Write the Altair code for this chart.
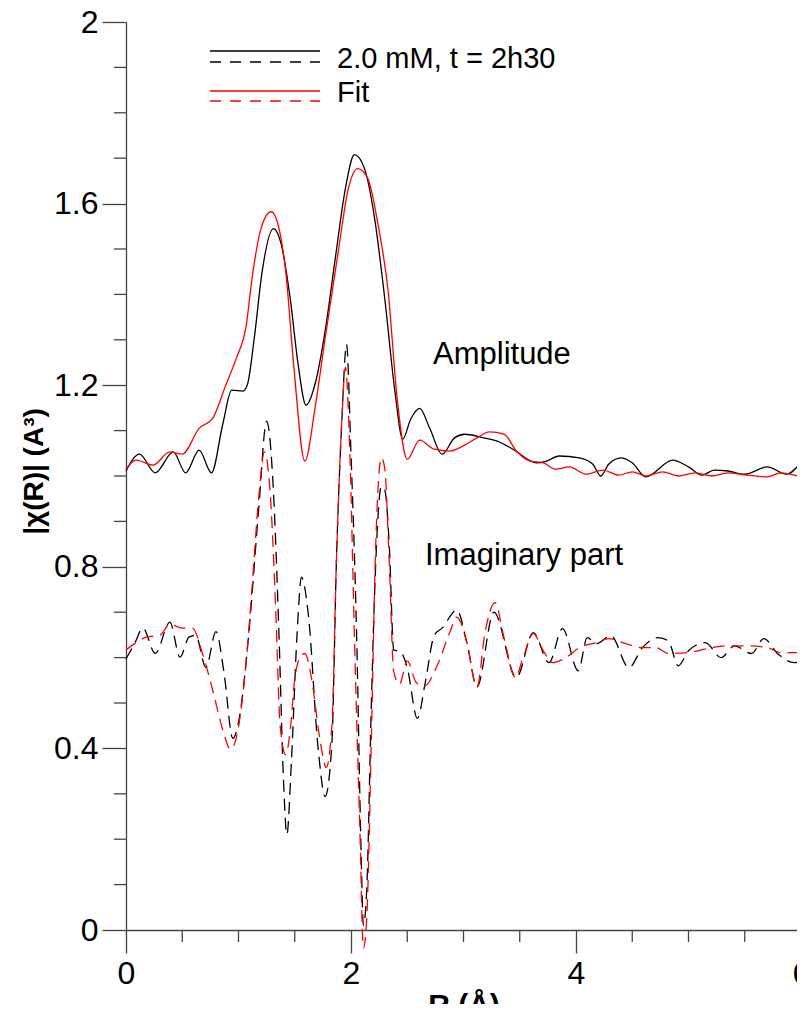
import altair as alt
import pandas as pd

# ---------------- data ----------------
# |chi(R)| amplitude, experiment (black solid)
R_amp = [0.00, 0.12, 0.26, 0.42, 0.53, 0.65, 0.76, 0.86, 0.94, 1.04, 1.08, 1.14, 1.21, 1.31, 1.38,
         1.46, 1.53, 1.60, 1.68, 1.77, 1.86, 1.95, 2.03, 2.12, 2.21, 2.30, 2.39, 2.46, 2.53, 2.61,
         2.70, 2.81, 2.92, 3.01, 3.18, 3.30, 3.44, 3.65, 3.74, 3.85, 4.03, 4.15, 4.22, 4.29, 4.40,
         4.50, 4.62, 4.86, 5.00, 5.12, 5.23, 5.35, 5.50, 5.70, 5.87, 6.00]
amp_exp = [1.011, 1.048, 1.007, 1.053, 1.007, 1.057, 1.007, 1.114, 1.189, 1.187, 1.202, 1.303, 1.45,
           1.545, 1.51, 1.39, 1.246, 1.156, 1.202, 1.319, 1.479, 1.633, 1.708, 1.677, 1.567, 1.391,
           1.187, 1.081, 1.125, 1.149, 1.105, 1.048, 1.084, 1.092, 1.084, 1.077, 1.059, 1.029, 1.033,
           1.044, 1.040, 1.026, 1.000, 1.026, 1.040, 1.029, 0.998, 1.035, 1.020, 1.002, 1.013, 1.011,
           1.004, 1.020, 1.004, 1.030]

# amplitude, fit (red solid)
R_amp_fit = [0.00, 0.09, 0.24, 0.39, 0.50, 0.65, 0.77, 0.89, 0.98, 1.07, 1.12, 1.20, 1.29, 1.36, 1.42,
             1.49, 1.59, 1.68, 1.77, 1.89, 1.97, 2.06, 2.15, 2.24, 2.33, 2.41, 2.50, 2.61, 2.74, 2.88,
             3.01, 3.12, 3.23, 3.36, 3.47, 3.59, 3.71, 3.82, 3.94, 4.09, 4.24, 4.38, 4.50, 4.62, 4.77,
             4.91, 5.06, 5.21, 5.35, 5.52, 5.70, 5.82, 6.00]
amp_fit = [1.015, 1.035, 1.024, 1.053, 1.048, 1.105, 1.127, 1.202, 1.259, 1.334, 1.435, 1.545, 1.582,
           1.545, 1.45, 1.246, 1.033, 1.149, 1.303, 1.50, 1.626, 1.677, 1.655, 1.554, 1.407, 1.171,
           1.037, 1.079, 1.059, 1.055, 1.068, 1.084, 1.097, 1.092, 1.055, 1.033, 1.029, 1.015, 1.020,
           1.004, 1.013, 1.002, 1.009, 1.000, 1.009, 1.000, 1.007, 1.000, 1.007, 1.002, 0.998, 1.007,
           0.998]

# imaginary part, experiment (black dashed)
R_im = [0.00, 0.08, 0.15, 0.26, 0.39, 0.48, 0.56, 0.62, 0.71, 0.80, 0.87, 0.95, 1.00, 1.09, 1.18,
        1.25, 1.31, 1.36, 1.40, 1.43, 1.47, 1.52, 1.56, 1.62, 1.71, 1.77, 1.83, 1.87, 1.92, 1.96,
        2.00, 2.05, 2.09, 2.11, 2.14, 2.18, 2.22, 2.27, 2.30, 2.34, 2.38, 2.44, 2.50, 2.59, 2.66,
        2.74, 2.81, 2.94, 3.03, 3.12, 3.27, 3.47, 3.62, 3.76, 3.88, 4.02, 4.10, 4.18, 4.31, 4.47,
        4.59, 4.73, 4.82, 4.91, 5.00, 5.15, 5.29, 5.41, 5.56, 5.67, 5.79, 5.94, 6.00]
im_exp = [0.597, 0.633, 0.665, 0.609, 0.678, 0.601, 0.645, 0.649, 0.578, 0.657, 0.569, 0.422, 0.457,
          0.649, 0.929, 1.121, 0.969, 0.649, 0.33, 0.21, 0.37, 0.649, 0.777, 0.697, 0.394, 0.294,
          0.41, 0.809, 1.129, 1.29, 1.049, 0.649, 0.17, 0.01, 0.09, 0.49, 0.809, 0.977, 0.969, 0.849,
          0.617, 0.613, 0.578, 0.466, 0.545, 0.649, 0.665, 0.705, 0.633, 0.535, 0.70, 0.556, 0.655,
          0.589, 0.664, 0.571, 0.644, 0.631, 0.648, 0.578, 0.622, 0.644, 0.637, 0.582, 0.615, 0.633,
          0.600, 0.626, 0.609, 0.642, 0.609, 0.589, 0.590]

# imaginary part, fit (red dashed)
R_im_fit = [0.00, 0.09, 0.18, 0.30, 0.39, 0.50, 0.59, 0.68, 0.77, 0.86, 0.93, 0.99, 1.06, 1.12, 1.18,
            1.23, 1.28, 1.33, 1.37, 1.42, 1.46, 1.50, 1.55, 1.59, 1.65, 1.72, 1.78, 1.83, 1.87, 1.92,
            1.95, 1.99, 2.03, 2.08, 2.11, 2.14, 2.18, 2.22, 2.27, 2.30, 2.34, 2.38, 2.43, 2.50, 2.58,
            2.65, 2.77, 2.88, 2.94, 3.03, 3.12, 3.19, 3.28, 3.36, 3.46, 3.53, 3.62, 3.71, 3.79, 3.91,
            4.03, 4.18, 4.29, 4.44, 4.59, 4.71, 4.82, 5.00, 5.17, 5.35, 5.53, 5.70, 5.82, 6.00]
im_fit = [0.617, 0.633, 0.645, 0.649, 0.673, 0.665, 0.665, 0.609, 0.529, 0.441, 0.398, 0.434, 0.569,
          0.753, 0.953, 1.053, 0.969, 0.713, 0.45, 0.386, 0.441, 0.553, 0.601, 0.609, 0.553, 0.426,
          0.358, 0.45, 0.809, 1.13, 1.24, 1.05, 0.65, 0.21, -0.04, 0.026, 0.41, 0.849, 1.04, 1.017,
          0.81, 0.569, 0.541, 0.593, 0.545, 0.537, 0.585, 0.657, 0.689, 0.633, 0.535, 0.653, 0.721,
          0.644, 0.556, 0.600, 0.653, 0.615, 0.589, 0.600, 0.622, 0.633, 0.642, 0.631, 0.622, 0.622,
          0.609, 0.611, 0.620, 0.626, 0.626, 0.622, 0.611, 0.611]

# axis ticks and texts
x_major = [0, 2, 4, 6]
x_minor = [0.5, 1.0, 1.5, 2.5, 3.0, 3.5, 4.5, 5.0, 5.5]
y_major = [0, 0.4, 0.8, 1.2, 1.6, 2.0]
y_minor = [0.1, 0.2, 0.3, 0.5, 0.6, 0.7, 0.9, 1.0, 1.1, 1.3, 1.4, 1.5, 1.7, 1.8, 1.9]
legend_labels = ["2.0 mM, t = 2h30", "Fit"]
annotations = ["Amplitude", "Imaginary part"]
x_title = "R (Å)"
y_title = "|χ(R)| (A³)"

# ---------------- chart ----------------
FONT = "Liberation Sans"
W, H = 675, 908
AX = "#444444"

xscale = alt.Scale(domain=[0, 6], nice=False, zero=False)
yscale = alt.Scale(domain=[0, 2], nice=False, zero=False)

xaxis = alt.Axis(values=x_major, tickSize=23, tickColor=AX, tickWidth=1.3,
                 domainColor=AX, domainWidth=1.3, grid=False,
                 labelFont=FONT, labelFontSize=32, labelColor="black", labelPadding=5,
                 labelFlush=False, labelOverlap=False, format="d",
                 title=x_title, titleFont=FONT, titleFontSize=30, titleFontWeight="bold",
                 titleColor="black", titleY=84, titleBaseline="alphabetic")
yaxis = alt.Axis(values=y_major, tickSize=24, tickColor=AX, tickWidth=1.3,
                 domainColor=AX, domainWidth=1.3, grid=False,
                 labelFont=FONT, labelFontSize=32, labelColor="black", labelPadding=4,
                 labelFlush=False, labelOverlap=False, format=".1~f",
                 title=y_title, titleFont=FONT, titleFontSize=28, titleFontWeight="bold",
                 titleColor="black", titleAngle=270, titleX=-92, titleY=449,
                 titleAlign="center", titleBaseline="middle")


def curve(R, v, color, dash=None):
    df = pd.DataFrame({"R": R, "v": v})
    kw = dict(color=color, strokeWidth=1.3, interpolate="monotone")
    if dash:
        kw["strokeDash"] = dash
    return alt.Chart(df).mark_line(**kw).encode(
        x=alt.X("R:Q", scale=xscale, axis=xaxis),
        y=alt.Y("v:Q", scale=yscale, axis=yaxis),
    )


DASH = [12, 7]
layers = [
    curve(R_amp, amp_exp, "#000000"),
    curve(R_im, im_exp, "#000000", DASH),
    curve(R_amp_fit, amp_fit, "#ff0000"),
    curve(R_im_fit, im_fit, "#ff0000", DASH),
]

# minor ticks
ymin_df = pd.DataFrame({"v": y_minor})
layers.append(
    alt.Chart(ymin_df).mark_rule(color=AX, strokeWidth=1.3).encode(
        y=alt.Y("v:Q", scale=yscale, axis=yaxis),
        x=alt.value(-12), x2=alt.value(0),
    )
)
xmin_df = pd.DataFrame({"R": x_minor})
layers.append(
    alt.Chart(xmin_df).mark_rule(color=AX, strokeWidth=1.3).encode(
        x=alt.X("R:Q", scale=xscale, axis=xaxis),
        y=alt.value(H), y2=alt.value(H + 12),
    )
)

# legend drawn by hand (two line styles per entry)
one = pd.DataFrame({"k": [0]})
leg_specs = [
    ("#000000", None, 29),
    ("#000000", [11, 9], 40),
    ("#ff0000", None, 69),
    ("#ff0000", [11, 9], 79),
]
for col, dash, yy in leg_specs:
    kw = dict(color=col, strokeWidth=1.3)
    if dash:
        kw["strokeDash"] = dash
    layers.append(
        alt.Chart(one).mark_rule(**kw).encode(
            x=alt.value(84), x2=alt.value(194), y=alt.value(yy)
        )
    )

text_specs = [
    (legend_labels[0], 211, 46, 29),
    (legend_labels[1], 211, 80, 29),
    (annotations[0], 307, 342, 31),
    (annotations[1], 299, 543, 31),
]
for txt, xx, yy, fs in text_specs:
    layers.append(
        alt.Chart(one).mark_text(text=txt, align="left", baseline="alphabetic",
                                 font=FONT, fontSize=fs, color="black").encode(
            x=alt.value(xx), y=alt.value(yy)
        )
    )

# total svg: 118 + 675 - 4 = 789 wide, 14 + 908 + 74 = 996 tall (fits the page)
chart = alt.layer(*layers).properties(
    width=W, height=H,
    padding={"left": 118, "top": 14, "right": -4, "bottom": 74},
    autosize=alt.AutoSizeParams(type="none"),
    background="white",
).configure_view(stroke=None)

chart.save("out.html", embed_options={"renderer": "svg", "actions": False})
